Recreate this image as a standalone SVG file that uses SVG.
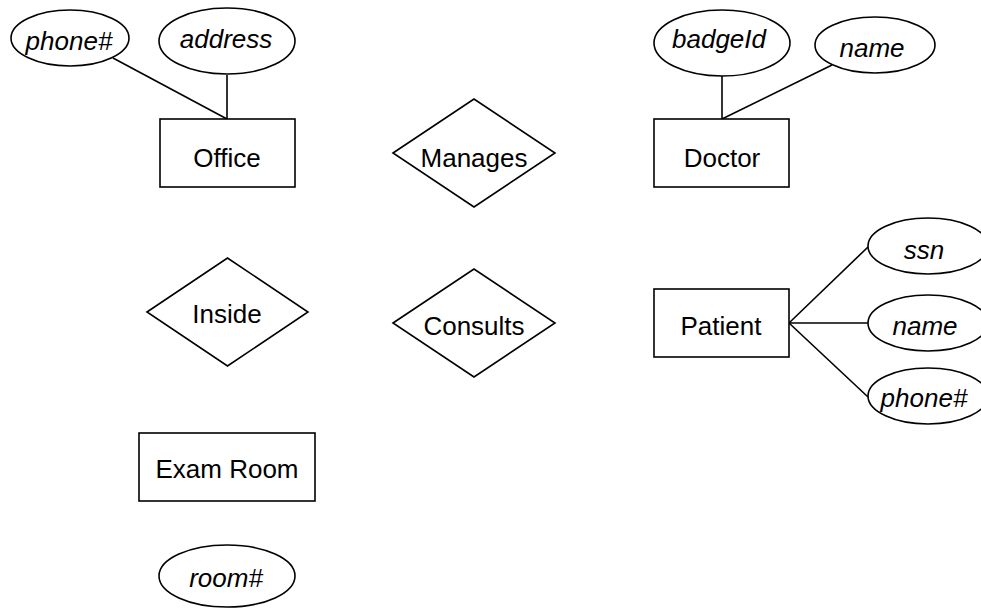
<svg xmlns="http://www.w3.org/2000/svg" width="981" height="609" viewBox="0 0 981 609">
<style>
.s{fill:#ffffff;stroke:#000000;stroke-width:1.6}
.c{fill:none;stroke:#000000;stroke-width:1.6}
.t{font-family:"Liberation Sans",Arial,sans-serif;font-size:26px;fill:#000000;text-anchor:middle}
.a{font-style:italic}
</style>
<rect width="981" height="609" fill="#ffffff"/>
<g id="connectors">
<line class="c" x1="113" y1="58" x2="227" y2="119"/>
<line class="c" x1="227" y1="75" x2="227" y2="119"/>
<line class="c" x1="722" y1="76" x2="722" y2="119"/>
<line class="c" x1="832" y1="65" x2="722" y2="119"/>
<line class="c" x1="789" y1="323" x2="868" y2="247"/>
<line class="c" x1="789" y1="323" x2="868" y2="323"/>
<line class="c" x1="789" y1="323" x2="868" y2="397"/>
</g>
<g id="office"><rect class="s" x="160" y="119" width="135" height="68"/><text class="t" x="227" y="167">Office</text></g>
<g id="office-phone"><ellipse class="s" cx="70" cy="38" rx="59" ry="28"/><text class="t a" x="69" y="50">phone#</text></g>
<g id="office-address"><ellipse class="s" cx="227" cy="41" rx="68" ry="33"/><text class="t a" x="226" y="48">address</text></g>
<g id="manages"><polygon class="s" points="393,153 474,99 555,153 474,207"/><text class="t" x="474" y="167">Manages</text></g>
<g id="doctor"><rect class="s" x="654" y="119" width="135" height="68"/><text class="t" x="722" y="167">Doctor</text></g>
<g id="doctor-badgeid"><ellipse class="s" cx="722" cy="43" rx="68" ry="33"/><text class="t a" x="719" y="48">badgeId</text></g>
<g id="doctor-name"><ellipse class="s" cx="875" cy="45" rx="60" ry="28"/><text class="t a" x="872" y="57">name</text></g>
<g id="inside"><polygon class="s" points="147,312 227.5,258 308,312 227.5,366"/><text class="t" x="227" y="323">Inside</text></g>
<g id="consults"><polygon class="s" points="393,323 474,269 555,323 474,377"/><text class="t" x="474" y="335">Consults</text></g>
<g id="patient"><rect class="s" x="654" y="289" width="135" height="68"/><text class="t" x="721" y="335">Patient</text></g>
<g id="patient-ssn"><ellipse class="s" cx="928" cy="246" rx="60" ry="28"/><text class="t a" x="924" y="259">ssn</text></g>
<g id="patient-name"><ellipse class="s" cx="928" cy="323" rx="60" ry="28"/><text class="t a" x="925" y="335">name</text></g>
<g id="patient-phone"><ellipse class="s" cx="928" cy="396" rx="60" ry="28"/><text class="t a" x="924" y="407">phone#</text></g>
<g id="examroom"><rect class="s" x="139" y="433" width="176" height="68"/><text class="t" x="227" y="478">Exam Room</text></g>
<g id="examroom-room"><ellipse class="s" cx="227" cy="576" rx="68" ry="31"/><text class="t a" x="226" y="587">room#</text></g>
</svg>
